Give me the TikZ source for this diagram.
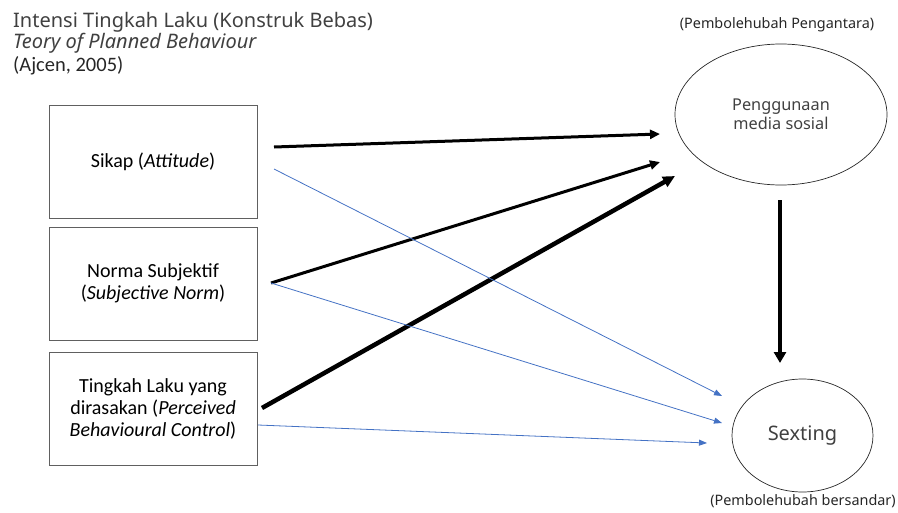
\documentclass[tikz,border=0pt]{standalone}
\usepackage{fontspec}
\setmainfont{Carlito}
\newfontfamily\notofont{Noto Sans}
\usetikzlibrary{shapes.geometric, arrows.meta, positioning, calc}
\definecolor{officeblue}{RGB}{68,114,196}
\definecolor{textgray}{RGB}{64,64,64}

\begin{document}
\begin{tikzpicture}[x=1pt, y=-1pt,
    varbox/.style={draw=gray!75!black, line width=0.7pt, minimum width=208pt, minimum height=113pt,
        inner sep=0pt, align=center, font=\fontsize{20}{22}\selectfont},
    oval/.style={draw=black!85, ellipse, line width=0.7pt, inner sep=0pt, align=center,
        text=textgray},
    tag/.style={font=\notofont\fontsize{14.4}{16}\selectfont, text=black!85},
    heading/.style={anchor=base west, inner sep=0pt, text=textgray},
    pathblack/.style={line width=3pt, -{Triangle[length=10pt,width=9pt]}},
    pathblue/.style={draw=officeblue, line width=0.8pt, -{Triangle[length=8pt,width=6pt]}, officeblue}]
\useasboundingbox (0,0) rectangle (898,512);

% title
\node[heading, font=\notofont\fontsize{20}{22}\selectfont] (title1) at (13,27) {Intensi Tingkah Laku (Konstruk Bebas)};
\node[heading, font=\notofont\itshape\fontsize{20}{22}\selectfont] (title2) at (13,48) {Teory of Planned Behaviour};
\node[heading, text=black!85, font=\fontsize{20.5}{22}\selectfont] (title3) at (13,71) {(Ajcen, 2005)};

% konstruk bebas
\node[varbox] (sikap) at (153,161.5) {Sikap (\textit{Attitude})};
\node[varbox] (norma) at (153,283.5) {Norma Subjektif\\(\textit{Subjective Norm})};
\node[varbox] (kawalan) at (153,408.5) {Tingkah Laku yang\\dirasakan (\textit{Perceived}\\\textit{Behavioural Control})};

% pengantara dan bersandar
\node[oval, minimum width=212pt, minimum height=141pt,
    font=\notofont\fontsize{16.3}{18.5}\selectfont] (media) at (781,114.5) {Penggunaan\\media sosial};
\node[oval, minimum width=141pt, minimum height=113pt,
    font=\notofont\fontsize{20}{22}\selectfont] (sexting) at (802.5,435.5) {Sexting};
\node[tag] (tagmedia) at (777,25) {(Pembolehubah Pengantara)};
\node[tag] (tagsexting) at (803,501) {(Pembolehubah bersandar)};

% hujung anak panah
\coordinate (s1) at (274,147);
\coordinate (s2) at (274,169);
\coordinate (n1) at (271,283);
\coordinate (k1) at (262,408);
\coordinate (k2) at (258,425);
\coordinate (m1) at (660,134);
\coordinate (m2) at (660,162);
\coordinate (m3) at (675,176);
\coordinate (x1) at (722,396);
\coordinate (x2) at (722,423);
\coordinate (x3) at (707,443);
\coordinate (v1) at (780,200);
\coordinate (v2) at (780,363);

\draw[pathblack] (s1) -- (m1);
\draw[pathblack] (n1) -- (m2);
\draw[pathblack, line width=4.5pt, -{Triangle[length=12pt,width=11pt]}] (k1) -- (m3);
\draw[pathblack, line width=3.5pt, -{Triangle[length=11pt,width=12pt]}] (v1) -- (v2);

\foreach \a/\b in {s2/x1, n1/x2, k2/x3}
    \draw[pathblue] (\a) -- (\b);
\end{tikzpicture}
\end{document}
